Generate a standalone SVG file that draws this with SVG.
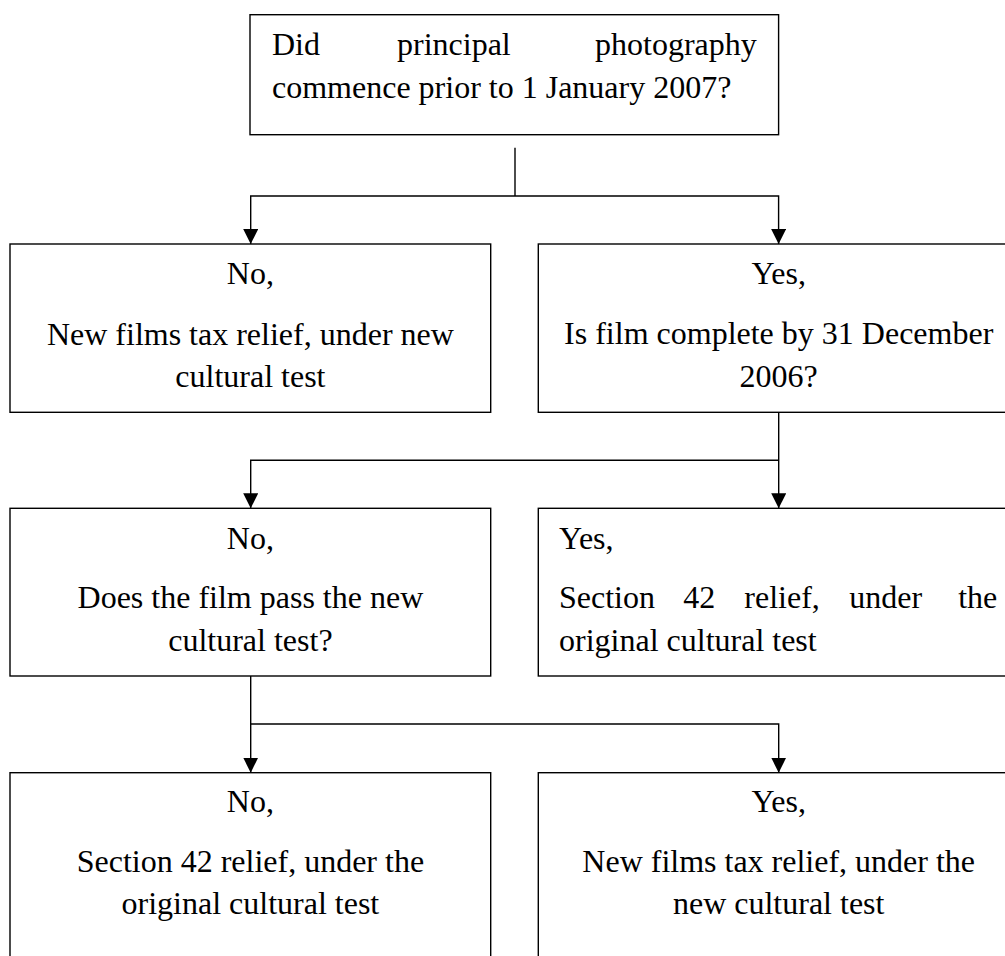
<svg xmlns="http://www.w3.org/2000/svg" width="1005" height="956" viewBox="0 0 1005 956">
<defs>
<style>
.box{fill:#fff;stroke:#000;stroke-width:1.4}
.t{font-family:"Liberation Serif","Times New Roman",serif;font-size:32px;fill:#000}
.c{text-anchor:middle}
.e{text-anchor:end}
.ln{fill:none;stroke:#000;stroke-width:1.4}
</style>
<marker id="ah" markerUnits="userSpaceOnUse" markerWidth="16" markerHeight="16" refX="15" refY="7.5" orient="auto" viewBox="0 0 16 16">
<path d="M0,0 L15,7.5 L0,15 z" fill="#000"/>
</marker>
</defs>
<rect width="1005" height="956" fill="#fff"/>
<g id="connectors">
<path class="ln" d="M515,147.7 V196"/>
<path class="ln" d="M515,196 H250.7 V244" marker-end="url(#ah)"/>
<path class="ln" d="M515,196 H778.6 V244" marker-end="url(#ah)"/>
<path class="ln" d="M778.7,412.3 V508.3" marker-end="url(#ah)"/>
<path class="ln" d="M778.7,460.3 H250.7 V508.3" marker-end="url(#ah)"/>
<path class="ln" d="M250.7,676 V772.7" marker-end="url(#ah)"/>
<path class="ln" d="M250.7,724 H778.7 V772.7" marker-end="url(#ah)"/>
</g>
<g id="q1">
<rect class="box" x="250" y="14.7" width="528.6" height="120"/>
<text class="t" x="272" y="55">Did</text>
<text class="t" x="397" y="55">principal</text>
<text class="t e" x="756.8" y="55">photography</text>
<text class="t" x="272" y="97.7">commence prior to 1 January 2007?</text>
</g>
<g id="no1">
<rect class="box" x="10" y="244" width="480.7" height="168.3"/>
<text class="t c" x="250.4" y="284">No,</text>
<text class="t c" x="250.4" y="344.5">New films tax relief, under new</text>
<text class="t c" x="250.4" y="386.7">cultural test</text>
</g>
<g id="yes1">
<rect class="box" x="538.3" y="244" width="480.7" height="168.3"/>
<text class="t c" x="778.7" y="284">Yes,</text>
<text class="t c" x="778.7" y="344">Is film complete by 31 December</text>
<text class="t c" x="778.7" y="386.7">2006?</text>
</g>
<g id="no2">
<rect class="box" x="10" y="508.3" width="480.7" height="167.7"/>
<text class="t c" x="250.4" y="549">No,</text>
<text class="t c" x="250.4" y="608.3">Does the film pass the new</text>
<text class="t c" x="250.4" y="650.7">cultural test?</text>
</g>
<g id="yes2">
<rect class="box" x="538.3" y="508.3" width="480.7" height="167.7"/>
<text class="t" x="559" y="549">Yes,</text>
<text class="t" x="559" y="608.3">Section</text>
<text class="t" x="683.3" y="608.3">42</text>
<text class="t" x="744.3" y="608.3">relief,</text>
<text class="t" x="849.3" y="608.3">under</text>
<text class="t e" x="997.3" y="608.3">the</text>
<text class="t" x="559" y="650.7">original cultural test</text>
</g>
<g id="no3">
<rect class="box" x="10" y="772.7" width="480.7" height="200"/>
<text class="t c" x="250.4" y="811.7">No,</text>
<text class="t c" x="250.4" y="871.7">Section 42 relief, under the</text>
<text class="t c" x="250.4" y="914">original cultural test</text>
</g>
<g id="yes3">
<rect class="box" x="538.3" y="772.7" width="480.7" height="200"/>
<text class="t c" x="778.7" y="811.7">Yes,</text>
<text class="t c" x="778.7" y="871.7">New films tax relief, under the</text>
<text class="t c" x="778.7" y="914">new cultural test</text>
</g>
</svg>
